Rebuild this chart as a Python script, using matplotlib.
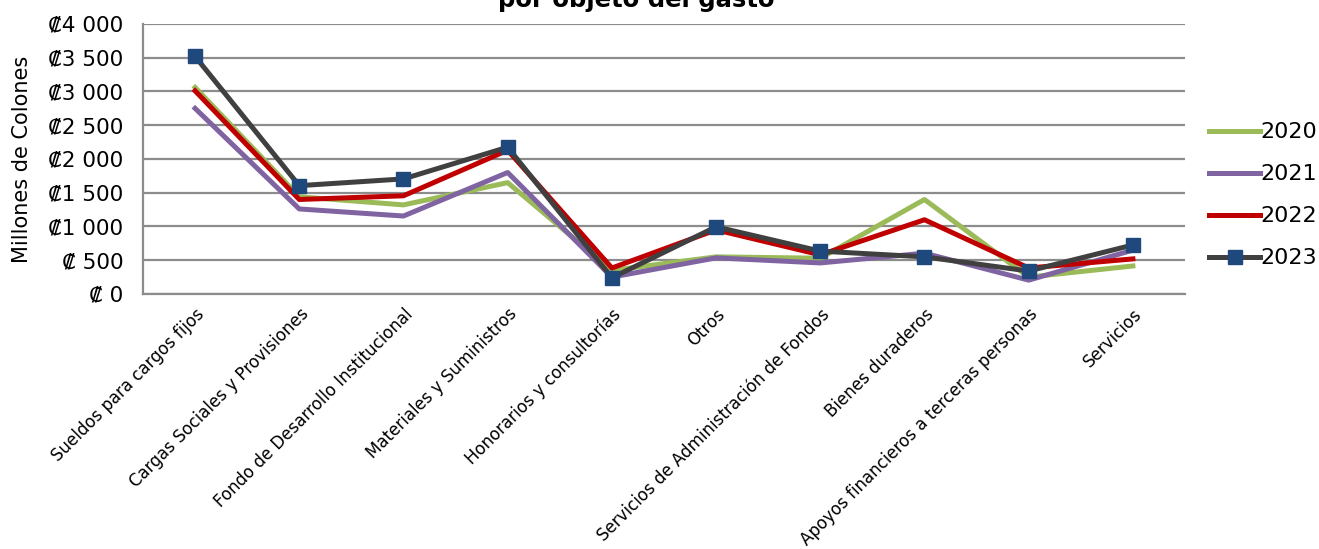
import matplotlib
matplotlib.use("Agg")
import matplotlib.pyplot as plt

categorias = ["Sueldos para cargos fijos", "Cargas Sociales y Provisiones",
              "Fondo de Desarrollo Institucional", "Materiales y Suministros",
              "Honorarios y consultorías", "Otros",
              "Servicios de Administración de Fondos", "Bienes duraderos",
              "Apoyos financieros a terceras personas", "Servicios"]

v2020 = [3060, 1440, 1320, 1650, 350, 550, 530, 1400, 250, 415]
v2021 = [2750, 1260, 1155, 1800, 250, 535, 460, 605, 205, 650]
v2022 = [3010, 1400, 1455, 2130, 385, 950, 580, 1100, 385, 520]
v2023 = [3520, 1605, 1705, 2175, 240, 995, 635, 550, 340, 726]

y_ticks = [0, 500, 1000, 1500, 2000, 2500, 3000, 3500, 4000]
y_labels = ["₡ 0", "₡ 500", "₡1 000", "₡1 500", "₡2 000", "₡2 500",
            "₡3 000", "₡3 500", "₡4 000"]

plt.rcParams['font.family'] = ['DejaVu Sans']

fig = plt.figure(figsize=(13.19, 5.49), dpi=100)
ax = fig.add_axes([0.1084, 0.4645, 0.79, 0.4918])

x = range(len(categorias))
ax.plot(x, v2020, color="#9BBB59", lw=3.6, label="2020", zorder=3)
ax.plot(x, v2021, color="#8064A2", lw=3.6, label="2021", zorder=3)
ax.plot(x, v2022, color="#C00000", lw=3.6, label="2022", zorder=4)
ax.plot(x, v2023, color="#404040", lw=3.6, label="2023", zorder=5,
        marker="s", markersize=10, markerfacecolor="#1F497D",
        markeredgecolor="#1F497D")

ax.set_xlim(-0.5, 9.5)
ax.set_ylim(0, 4000)
ax.set_yticks(y_ticks)
ax.set_yticklabels(y_labels, fontsize=15.5)
ax.set_xticks(list(x))
ax.set_xticklabels(categorias, rotation=45, ha="right", rotation_mode="anchor",
                   fontsize=12)
ax.tick_params(axis="y", length=0, pad=14)
ax.tick_params(axis="x", length=0, pad=8)

ax.grid(axis="y", color="#8c8c8c", lw=1.6)
ax.set_axisbelow(True)
for s in ["top", "right"]:
    ax.spines[s].set_visible(False)
ax.spines["left"].set_color("#8c8c8c")
ax.spines["left"].set_linewidth(1.6)
ax.spines["bottom"].set_color("#8c8c8c")
ax.spines["bottom"].set_linewidth(1.6)

ax.set_ylabel("Millones de Colones", fontsize=15, va="center")
ax.yaxis.set_label_coords(-0.116, 0.5)

fig.text(0.482, 1.0, "por objeto del gasto", ha="center", va="center",
         fontsize=17.5, fontweight="bold")

ax.legend(loc="center left", bbox_to_anchor=(1.004, 0.365), frameon=False,
          fontsize=16, handlelength=2.3, handletextpad=0.0, labelspacing=0.99)

fig.savefig("out.png", dpi=100)
